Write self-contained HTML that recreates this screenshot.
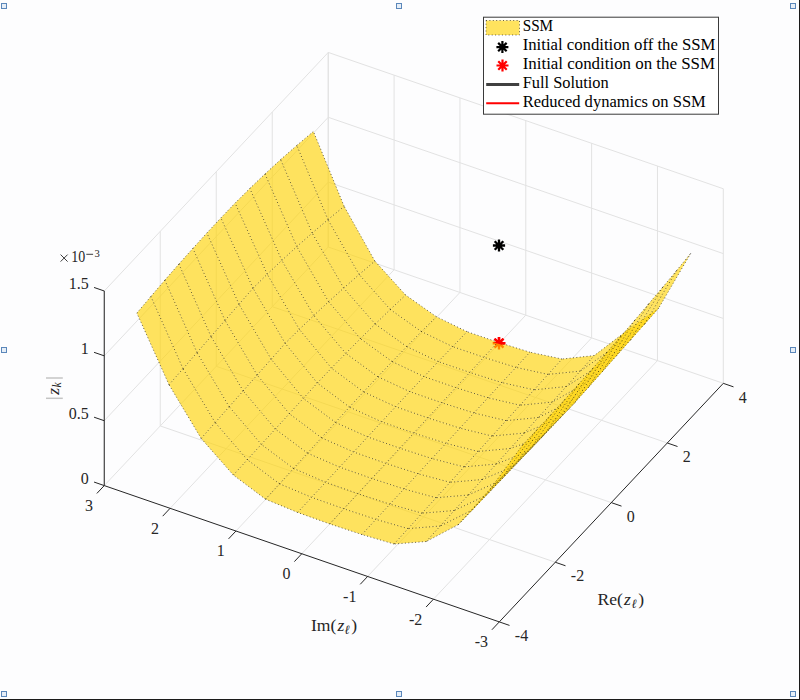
<!DOCTYPE html>
<html><head><meta charset="utf-8"><style>html,body{margin:0;padding:0;background:#FDFDFE;overflow:hidden}svg{display:block}</style></head><body>
<svg width="800" height="700" viewBox="0 0 800 700">
<rect width="800" height="700" fill="#FDFDFE"/>
<line x1="555.3" y1="562.26" x2="160.26" y2="425.94" stroke="#E2E2E2" stroke-width="1" />
<line x1="611.3" y1="502.62" x2="216.26" y2="366.3" stroke="#E2E2E2" stroke-width="1" />
<line x1="667.3" y1="442.98" x2="272.26" y2="306.66" stroke="#E2E2E2" stroke-width="1" />
<line x1="723.3" y1="383.34" x2="328.26" y2="247.02" stroke="#E2E2E2" stroke-width="1" />
<line x1="433.46" y1="599.18" x2="657.46" y2="360.62" stroke="#E2E2E2" stroke-width="1" />
<line x1="367.62" y1="576.46" x2="591.62" y2="337.9" stroke="#E2E2E2" stroke-width="1" />
<line x1="301.78" y1="553.74" x2="525.78" y2="315.18" stroke="#E2E2E2" stroke-width="1" />
<line x1="235.94" y1="531.02" x2="459.94" y2="292.46" stroke="#E2E2E2" stroke-width="1" />
<line x1="170.1" y1="508.3" x2="394.1" y2="269.74" stroke="#E2E2E2" stroke-width="1" />
<line x1="104.26" y1="485.58" x2="328.26" y2="247.02" stroke="#E2E2E2" stroke-width="1" />
<line x1="104.26" y1="485.58" x2="104.26" y2="290.99" stroke="#E2E2E2" stroke-width="1" />
<line x1="160.26" y1="425.94" x2="160.26" y2="231.35" stroke="#E2E2E2" stroke-width="1" />
<line x1="216.26" y1="366.3" x2="216.26" y2="171.71" stroke="#E2E2E2" stroke-width="1" />
<line x1="272.26" y1="306.66" x2="272.26" y2="112.06" stroke="#E2E2E2" stroke-width="1" />
<line x1="328.26" y1="247.02" x2="328.26" y2="52.43" stroke="#E2E2E2" stroke-width="1" />
<line x1="104.26" y1="420.71" x2="328.26" y2="182.15" stroke="#E2E2E2" stroke-width="1" />
<line x1="104.26" y1="355.85" x2="328.26" y2="117.29" stroke="#E2E2E2" stroke-width="1" />
<line x1="104.26" y1="290.99" x2="328.26" y2="52.43" stroke="#E2E2E2" stroke-width="1" />
<line x1="723.3" y1="383.34" x2="723.3" y2="188.75" stroke="#E2E2E2" stroke-width="1" />
<line x1="657.46" y1="360.62" x2="657.46" y2="166.03" stroke="#E2E2E2" stroke-width="1" />
<line x1="591.62" y1="337.9" x2="591.62" y2="143.31" stroke="#E2E2E2" stroke-width="1" />
<line x1="525.78" y1="315.18" x2="525.78" y2="120.58" stroke="#E2E2E2" stroke-width="1" />
<line x1="459.94" y1="292.46" x2="459.94" y2="97.87" stroke="#E2E2E2" stroke-width="1" />
<line x1="394.1" y1="269.74" x2="394.1" y2="75.15" stroke="#E2E2E2" stroke-width="1" />
<line x1="328.26" y1="247.02" x2="328.26" y2="52.43" stroke="#E2E2E2" stroke-width="1" />
<line x1="723.3" y1="318.47" x2="328.26" y2="182.15" stroke="#E2E2E2" stroke-width="1" />
<line x1="723.3" y1="253.61" x2="328.26" y2="117.29" stroke="#E2E2E2" stroke-width="1" />
<line x1="723.3" y1="188.75" x2="328.26" y2="52.43" stroke="#E2E2E2" stroke-width="1" />
<path d="M492.7,343.2L505.3,343.2M494.55,338.75L503.45,347.65M499,336.9L499,349.5M503.45,338.75L494.55,347.65" stroke="#FF0000" stroke-width="2.4" fill="none"/>
<polygon points="327.96,219.65 344.13,206.36 313.4,131.41 296.79,145.42" fill="#FFD200" fill-opacity="0.63"/>
<path d="M344.13,206.36L313.4,131.41M296.79,145.42L313.4,131.41" stroke="#000" stroke-opacity="0.6" stroke-width="1" stroke-dasharray="1 2.4" fill="none"/>
<polygon points="359.12,274.51 374.86,261.07 344.13,206.36 327.96,219.65" fill="#FFD200" fill-opacity="0.63"/>
<path d="M374.86,261.07L344.13,206.36M327.96,219.65L344.13,206.36" stroke="#000" stroke-opacity="0.6" stroke-width="1" stroke-dasharray="1 2.4" fill="none"/>
<polygon points="390.29,309.49 405.59,295.03 374.86,261.07 359.12,274.51" fill="#FFD200" fill-opacity="0.63"/>
<path d="M405.59,295.03L374.86,261.07M359.12,274.51L374.86,261.07" stroke="#000" stroke-opacity="0.6" stroke-width="1" stroke-dasharray="1 2.4" fill="none"/>
<polygon points="421.45,331.59 436.32,316.66 405.59,295.03 390.29,309.49" fill="#FFD200" fill-opacity="0.63"/>
<path d="M436.32,316.66L405.59,295.03M390.29,309.49L405.59,295.03" stroke="#000" stroke-opacity="0.6" stroke-width="1" stroke-dasharray="1 2.4" fill="none"/>
<polygon points="312.18,233.08 327.96,219.65 296.79,145.42 280.66,159.59" fill="#FFD200" fill-opacity="0.63"/>
<path d="M327.96,219.65L296.79,145.42M280.66,159.59L296.79,145.42" stroke="#000" stroke-opacity="0.6" stroke-width="1" stroke-dasharray="1 2.4" fill="none"/>
<polygon points="452.62,346.63 467.05,331.67 436.32,316.66 421.45,331.59" fill="#FFD200" fill-opacity="0.63"/>
<path d="M467.05,331.67L436.32,316.66M421.45,331.59L436.32,316.66" stroke="#000" stroke-opacity="0.6" stroke-width="1" stroke-dasharray="1 2.4" fill="none"/>
<polygon points="343.7,288.07 359.12,274.51 327.96,219.65 312.18,233.08" fill="#FFD200" fill-opacity="0.63"/>
<path d="M359.12,274.51L327.96,219.65M312.18,233.08L327.96,219.65" stroke="#000" stroke-opacity="0.6" stroke-width="1" stroke-dasharray="1 2.4" fill="none"/>
<polygon points="375.22,324.03 390.29,309.49 359.12,274.51 343.7,288.07" fill="#FFD200" fill-opacity="0.63"/>
<path d="M390.29,309.49L359.12,274.51M343.7,288.07L359.12,274.51" stroke="#000" stroke-opacity="0.6" stroke-width="1" stroke-dasharray="1 2.4" fill="none"/>
<polygon points="483.78,357.29 497.78,342.15 467.05,331.67 452.62,346.63" fill="#FFD200" fill-opacity="0.63"/>
<path d="M497.78,342.15L467.05,331.67M452.62,346.63L467.05,331.67" stroke="#000" stroke-opacity="0.6" stroke-width="1" stroke-dasharray="1 2.4" fill="none"/>
<polygon points="406.74,346.58 421.45,331.59 390.29,309.49 375.22,324.03" fill="#FFD200" fill-opacity="0.63"/>
<path d="M421.45,331.59L390.29,309.49M375.22,324.03L390.29,309.49" stroke="#000" stroke-opacity="0.6" stroke-width="1" stroke-dasharray="1 2.4" fill="none"/>
<polygon points="515.93,367.39 529.93,352.2 497.78,342.15 483.78,357.29" fill="#FFD200" fill-opacity="0.63"/>
<path d="M529.93,352.2L497.78,342.15M483.78,357.29L497.78,342.15" stroke="#000" stroke-opacity="0.6" stroke-width="1" stroke-dasharray="1 2.4" fill="none"/>
<polygon points="296.8,246.65 312.18,233.08 280.66,159.59 265,173.93" fill="#FFD200" fill-opacity="0.63"/>
<path d="M312.18,233.08L280.66,159.59M265,173.93L280.66,159.59" stroke="#000" stroke-opacity="0.6" stroke-width="1" stroke-dasharray="1 2.4" fill="none"/>
<polygon points="438.26,361.61 452.62,346.63 421.45,331.59 406.74,346.58" fill="#FFD200" fill-opacity="0.63"/>
<path d="M452.62,346.63L421.45,331.59M406.74,346.58L421.45,331.59" stroke="#000" stroke-opacity="0.6" stroke-width="1" stroke-dasharray="1 2.4" fill="none"/>
<polygon points="328.59,301.73 343.7,288.07 312.18,233.08 296.8,246.65" fill="#FFD200" fill-opacity="0.63"/>
<path d="M343.7,288.07L312.18,233.08M296.8,246.65L312.18,233.08" stroke="#000" stroke-opacity="0.6" stroke-width="1" stroke-dasharray="1 2.4" fill="none"/>
<polygon points="548.08,374.42 562.08,359.02 529.93,352.2 515.93,367.39" fill="#FFD200" fill-opacity="0.63"/>
<path d="M562.08,359.02L529.93,352.2M515.93,367.39L529.93,352.2" stroke="#000" stroke-opacity="0.6" stroke-width="1" stroke-dasharray="1 2.4" fill="none"/>
<polygon points="360.39,338.65 375.22,324.03 343.7,288.07 328.59,301.73" fill="#FFD200" fill-opacity="0.63"/>
<path d="M375.22,324.03L343.7,288.07M328.59,301.73L343.7,288.07" stroke="#000" stroke-opacity="0.6" stroke-width="1" stroke-dasharray="1 2.4" fill="none"/>
<polygon points="469.78,372.44 483.78,357.29 452.62,346.63 438.26,361.61" fill="#FFD200" fill-opacity="0.63"/>
<path d="M483.78,357.29L452.62,346.63M438.26,361.61L452.62,346.63" stroke="#000" stroke-opacity="0.6" stroke-width="1" stroke-dasharray="1 2.4" fill="none"/>
<polygon points="392.19,361.62 406.74,346.58 375.22,324.03 360.39,338.65" fill="#FFD200" fill-opacity="0.63"/>
<path d="M406.74,346.58L375.22,324.03M360.39,338.65L375.22,324.03" stroke="#000" stroke-opacity="0.6" stroke-width="1" stroke-dasharray="1 2.4" fill="none"/>
<polygon points="580.24,371.08 594.24,355.58 562.08,359.02 548.08,374.42" fill="#FFD200" fill-opacity="0.63"/>
<path d="M594.24,355.58L562.08,359.02M548.08,374.42L562.08,359.02" stroke="#000" stroke-opacity="0.6" stroke-width="1" stroke-dasharray="1 2.4" fill="none"/>
<polygon points="501.93,382.59 515.93,367.39 483.78,357.29 469.78,372.44" fill="#FFD200" fill-opacity="0.63"/>
<path d="M515.93,367.39L483.78,357.29M469.78,372.44L483.78,357.29" stroke="#000" stroke-opacity="0.6" stroke-width="1" stroke-dasharray="1 2.4" fill="none"/>
<polygon points="281.81,260.36 296.8,246.65 265,173.93 249.82,188.43" fill="#FFD200" fill-opacity="0.63"/>
<path d="M296.8,246.65L265,173.93M249.82,188.43L265,173.93" stroke="#000" stroke-opacity="0.6" stroke-width="1" stroke-dasharray="1 2.4" fill="none"/>
<polygon points="423.98,376.62 438.26,361.61 406.74,346.58 392.19,361.62" fill="#FFD200" fill-opacity="0.63"/>
<path d="M438.26,361.61L406.74,346.58M392.19,361.62L406.74,346.58" stroke="#000" stroke-opacity="0.6" stroke-width="1" stroke-dasharray="1 2.4" fill="none"/>
<polygon points="313.8,315.51 328.59,301.73 296.8,246.65 281.81,260.36" fill="#FFD200" fill-opacity="0.63"/>
<path d="M328.59,301.73L296.8,246.65M281.81,260.36L296.8,246.65" stroke="#000" stroke-opacity="0.6" stroke-width="1" stroke-dasharray="1 2.4" fill="none"/>
<polygon points="612.39,348.64 626.39,331 594.24,355.58 580.24,371.08" fill="#FFD200" fill-opacity="0.63"/>
<path d="M626.39,331L594.24,355.58M580.24,371.08L594.24,355.58" stroke="#000" stroke-opacity="0.6" stroke-width="1" stroke-dasharray="1 2.4" fill="none"/>
<polygon points="534.08,389.83 548.08,374.42 515.93,367.39 501.93,382.59" fill="#FFD200" fill-opacity="0.63"/>
<path d="M548.08,374.42L515.93,367.39M501.93,382.59L515.93,367.39" stroke="#000" stroke-opacity="0.6" stroke-width="1" stroke-dasharray="1 2.4" fill="none"/>
<polygon points="345.8,353.36 360.39,338.65 328.59,301.73 313.8,315.51" fill="#FFD200" fill-opacity="0.63"/>
<path d="M360.39,338.65L328.59,301.73M313.8,315.51L328.59,301.73" stroke="#000" stroke-opacity="0.6" stroke-width="1" stroke-dasharray="1 2.4" fill="none"/>
<polygon points="455.78,387.59 469.78,372.44 438.26,361.61 423.98,376.62" fill="#FFD200" fill-opacity="0.63"/>
<path d="M469.78,372.44L438.26,361.61M423.98,376.62L438.26,361.61" stroke="#000" stroke-opacity="0.6" stroke-width="1" stroke-dasharray="1 2.4" fill="none"/>
<polygon points="377.79,376.72 392.19,361.62 360.39,338.65 345.8,353.36" fill="#FFD200" fill-opacity="0.63"/>
<path d="M392.19,361.62L360.39,338.65M345.8,353.36L360.39,338.65" stroke="#000" stroke-opacity="0.6" stroke-width="1" stroke-dasharray="1 2.4" fill="none"/>
<polygon points="566.24,386.57 580.24,371.08 548.08,374.42 534.08,389.83" fill="#FFD200" fill-opacity="0.63"/>
<path d="M580.24,371.08L548.08,374.42M534.08,389.83L548.08,374.42" stroke="#000" stroke-opacity="0.6" stroke-width="1" stroke-dasharray="1 2.4" fill="none"/>
<polygon points="644.54,324.14 658.54,308.37 626.39,331 612.39,348.64" fill="#FFD200" fill-opacity="0.63"/>
<path d="M658.54,308.37L626.39,331M612.39,348.64L626.39,331" stroke="#000" stroke-opacity="0.6" stroke-width="1" stroke-dasharray="1 2.4" fill="none"/>
<polygon points="487.93,397.78 501.93,382.59 469.78,372.44 455.78,387.59" fill="#FFD200" fill-opacity="0.63"/>
<path d="M501.93,382.59L469.78,372.44M455.78,387.59L469.78,372.44" stroke="#000" stroke-opacity="0.6" stroke-width="1" stroke-dasharray="1 2.4" fill="none"/>
<polygon points="267.22,274.2 281.81,260.36 249.82,188.43 235.11,203.09" fill="#FFD200" fill-opacity="0.63"/>
<path d="M281.81,260.36L249.82,188.43M235.11,203.09L249.82,188.43" stroke="#000" stroke-opacity="0.6" stroke-width="1" stroke-dasharray="1 2.4" fill="none"/>
<polygon points="409.79,391.65 423.98,376.62 392.19,361.62 377.79,376.72" fill="#FFD200" fill-opacity="0.63"/>
<path d="M423.98,376.62L392.19,361.62M377.79,376.72L392.19,361.62" stroke="#000" stroke-opacity="0.6" stroke-width="1" stroke-dasharray="1 2.4" fill="none"/>
<polygon points="299.33,329.39 313.8,315.51 281.81,260.36 267.22,274.2" fill="#FFD200" fill-opacity="0.63"/>
<path d="M313.8,315.51L281.81,260.36M267.22,274.2L281.81,260.36" stroke="#000" stroke-opacity="0.6" stroke-width="1" stroke-dasharray="1 2.4" fill="none"/>
<polygon points="598.39,366.27 612.39,348.64 580.24,371.08 566.24,386.57" fill="#FFD200" fill-opacity="0.63"/>
<path d="M612.39,348.64L580.24,371.08M566.24,386.57L580.24,371.08" stroke="#000" stroke-opacity="0.6" stroke-width="1" stroke-dasharray="1 2.4" fill="none"/>
<polygon points="520.08,405.24 534.08,389.83 501.93,382.59 487.93,397.78" fill="#FFD200" fill-opacity="0.63"/>
<path d="M534.08,389.83L501.93,382.59M487.93,397.78L501.93,382.59" stroke="#000" stroke-opacity="0.6" stroke-width="1" stroke-dasharray="1 2.4" fill="none"/>
<polygon points="331.44,368.14 345.8,353.36 313.8,315.51 299.33,329.39" fill="#FFD200" fill-opacity="0.63"/>
<path d="M345.8,353.36L313.8,315.51M299.33,329.39L313.8,315.51" stroke="#000" stroke-opacity="0.6" stroke-width="1" stroke-dasharray="1 2.4" fill="none"/>
<polygon points="441.78,402.74 455.78,387.59 423.98,376.62 409.79,391.65" fill="#FFD200" fill-opacity="0.63"/>
<path d="M455.78,387.59L423.98,376.62M409.79,391.65L423.98,376.62" stroke="#000" stroke-opacity="0.6" stroke-width="1" stroke-dasharray="1 2.4" fill="none"/>
<polygon points="676.69,270.41 690.69,253.39 658.54,308.37 644.54,324.14" fill="#FFD200" fill-opacity="0.63"/>
<path d="M690.69,253.39L658.54,308.37M676.69,270.41L690.69,253.39M644.54,324.14L658.54,308.37" stroke="#000" stroke-opacity="0.6" stroke-width="1" stroke-dasharray="1 2.4" fill="none"/>
<polygon points="363.56,391.87 377.79,376.72 345.8,353.36 331.44,368.14" fill="#FFD200" fill-opacity="0.63"/>
<path d="M377.79,376.72L345.8,353.36M331.44,368.14L345.8,353.36" stroke="#000" stroke-opacity="0.6" stroke-width="1" stroke-dasharray="1 2.4" fill="none"/>
<polygon points="552.24,402.06 566.24,386.57 534.08,389.83 520.08,405.24" fill="#FFD200" fill-opacity="0.63"/>
<path d="M566.24,386.57L534.08,389.83M520.08,405.24L534.08,389.83" stroke="#000" stroke-opacity="0.6" stroke-width="1" stroke-dasharray="1 2.4" fill="none"/>
<polygon points="630.54,339.92 644.54,324.14 612.39,348.64 598.39,366.27" fill="#FFD200" fill-opacity="0.63"/>
<path d="M644.54,324.14L612.39,348.64M598.39,366.27L612.39,348.64" stroke="#000" stroke-opacity="0.6" stroke-width="1" stroke-dasharray="1 2.4" fill="none"/>
<polygon points="473.93,412.97 487.93,397.78 455.78,387.59 441.78,402.74" fill="#FFD200" fill-opacity="0.63"/>
<path d="M487.93,397.78L455.78,387.59M441.78,402.74L455.78,387.59" stroke="#000" stroke-opacity="0.6" stroke-width="1" stroke-dasharray="1 2.4" fill="none"/>
<polygon points="253.02,288.17 267.22,274.2 235.11,203.09 220.87,217.92" fill="#FFD200" fill-opacity="0.63"/>
<path d="M267.22,274.2L235.11,203.09M220.87,217.92L235.11,203.09" stroke="#000" stroke-opacity="0.6" stroke-width="1" stroke-dasharray="1 2.4" fill="none"/>
<polygon points="395.67,406.72 409.79,391.65 377.79,376.72 363.56,391.87" fill="#FFD200" fill-opacity="0.63"/>
<path d="M409.79,391.65L377.79,376.72M363.56,391.87L377.79,376.72" stroke="#000" stroke-opacity="0.6" stroke-width="1" stroke-dasharray="1 2.4" fill="none"/>
<polygon points="285.17,343.38 299.33,329.39 267.22,274.2 253.02,288.17" fill="#FFD200" fill-opacity="0.63"/>
<path d="M299.33,329.39L267.22,274.2M253.02,288.17L267.22,274.2" stroke="#000" stroke-opacity="0.6" stroke-width="1" stroke-dasharray="1 2.4" fill="none"/>
<polygon points="584.39,383.9 598.39,366.27 566.24,386.57 552.24,402.06" fill="#FFD200" fill-opacity="0.63"/>
<path d="M598.39,366.27L566.24,386.57M552.24,402.06L566.24,386.57" stroke="#000" stroke-opacity="0.6" stroke-width="1" stroke-dasharray="1 2.4" fill="none"/>
<polygon points="506.08,420.65 520.08,405.24 487.93,397.78 473.93,412.97" fill="#FFD200" fill-opacity="0.63"/>
<path d="M520.08,405.24L487.93,397.78M473.93,412.97L487.93,397.78" stroke="#000" stroke-opacity="0.6" stroke-width="1" stroke-dasharray="1 2.4" fill="none"/>
<polygon points="317.32,383.01 331.44,368.14 299.33,329.39 285.17,343.38" fill="#FFD200" fill-opacity="0.63"/>
<path d="M331.44,368.14L299.33,329.39M285.17,343.38L299.33,329.39" stroke="#000" stroke-opacity="0.6" stroke-width="1" stroke-dasharray="1 2.4" fill="none"/>
<polygon points="427.78,417.89 441.78,402.74 409.79,391.65 395.67,406.72" fill="#FFD200" fill-opacity="0.63"/>
<path d="M441.78,402.74L409.79,391.65M395.67,406.72L409.79,391.65" stroke="#000" stroke-opacity="0.6" stroke-width="1" stroke-dasharray="1 2.4" fill="none"/>
<polygon points="662.69,287.23 676.69,270.41 644.54,324.14 630.54,339.92" fill="#FFD200" fill-opacity="0.63"/>
<path d="M676.69,270.41L644.54,324.14M662.69,287.23L676.69,270.41M630.54,339.92L644.54,324.14" stroke="#000" stroke-opacity="0.6" stroke-width="1" stroke-dasharray="1 2.4" fill="none"/>
<polygon points="349.48,407.08 363.56,391.87 331.44,368.14 317.32,383.01" fill="#FFD200" fill-opacity="0.63"/>
<path d="M363.56,391.87L331.44,368.14M317.32,383.01L331.44,368.14" stroke="#000" stroke-opacity="0.6" stroke-width="1" stroke-dasharray="1 2.4" fill="none"/>
<polygon points="538.24,417.56 552.24,402.06 520.08,405.24 506.08,420.65" fill="#FFD200" fill-opacity="0.63"/>
<path d="M552.24,402.06L520.08,405.24M506.08,420.65L520.08,405.24" stroke="#000" stroke-opacity="0.6" stroke-width="1" stroke-dasharray="1 2.4" fill="none"/>
<polygon points="616.54,355.69 630.54,339.92 598.39,366.27 584.39,383.9" fill="#FFD200" fill-opacity="0.63"/>
<path d="M630.54,339.92L598.39,366.27M584.39,383.9L598.39,366.27" stroke="#000" stroke-opacity="0.6" stroke-width="1" stroke-dasharray="1 2.4" fill="none"/>
<polygon points="459.93,428.16 473.93,412.97 441.78,402.74 427.78,417.89" fill="#FFD200" fill-opacity="0.63"/>
<path d="M473.93,412.97L441.78,402.74M427.78,417.89L441.78,402.74" stroke="#000" stroke-opacity="0.6" stroke-width="1" stroke-dasharray="1 2.4" fill="none"/>
<polygon points="239.02,304.27 253.02,288.17 220.87,217.92 206.87,232.99" fill="#FFD200" fill-opacity="0.63"/>
<path d="M253.02,288.17L220.87,217.92M206.87,232.99L220.87,217.92" stroke="#000" stroke-opacity="0.6" stroke-width="1" stroke-dasharray="1 2.4" fill="none"/>
<polygon points="381.63,421.81 395.67,406.72 363.56,391.87 349.48,407.08" fill="#FFD200" fill-opacity="0.63"/>
<path d="M395.67,406.72L363.56,391.87M349.48,407.08L363.56,391.87" stroke="#000" stroke-opacity="0.6" stroke-width="1" stroke-dasharray="1 2.4" fill="none"/>
<polygon points="271.17,359.22 285.17,343.38 253.02,288.17 239.02,304.27" fill="#FFD200" fill-opacity="0.63"/>
<path d="M285.17,343.38L253.02,288.17M239.02,304.27L253.02,288.17" stroke="#000" stroke-opacity="0.6" stroke-width="1" stroke-dasharray="1 2.4" fill="none"/>
<polygon points="570.39,401.54 584.39,383.9 552.24,402.06 538.24,417.56" fill="#FFD200" fill-opacity="0.63"/>
<path d="M584.39,383.9L552.24,402.06M538.24,417.56L552.24,402.06" stroke="#000" stroke-opacity="0.6" stroke-width="1" stroke-dasharray="1 2.4" fill="none"/>
<polygon points="492.08,436.05 506.08,420.65 473.93,412.97 459.93,428.16" fill="#FFD200" fill-opacity="0.63"/>
<path d="M506.08,420.65L473.93,412.97M459.93,428.16L473.93,412.97" stroke="#000" stroke-opacity="0.6" stroke-width="1" stroke-dasharray="1 2.4" fill="none"/>
<polygon points="303.32,398.36 317.32,383.01 285.17,343.38 271.17,359.22" fill="#FFD200" fill-opacity="0.63"/>
<path d="M317.32,383.01L285.17,343.38M271.17,359.22L285.17,343.38" stroke="#000" stroke-opacity="0.6" stroke-width="1" stroke-dasharray="1 2.4" fill="none"/>
<polygon points="413.78,433.03 427.78,417.89 395.67,406.72 381.63,421.81" fill="#FFD200" fill-opacity="0.63"/>
<path d="M427.78,417.89L395.67,406.72M381.63,421.81L395.67,406.72" stroke="#000" stroke-opacity="0.6" stroke-width="1" stroke-dasharray="1 2.4" fill="none"/>
<polygon points="648.69,303.86 662.69,287.23 630.54,339.92 616.54,355.69" fill="#FFD200" fill-opacity="0.63"/>
<path d="M662.69,287.23L630.54,339.92M648.69,303.86L662.69,287.23M616.54,355.69L630.54,339.92" stroke="#000" stroke-opacity="0.6" stroke-width="1" stroke-dasharray="1 2.4" fill="none"/>
<polygon points="335.48,422.42 349.48,407.08 317.32,383.01 303.32,398.36" fill="#FFD200" fill-opacity="0.63"/>
<path d="M349.48,407.08L317.32,383.01M303.32,398.36L317.32,383.01" stroke="#000" stroke-opacity="0.6" stroke-width="1" stroke-dasharray="1 2.4" fill="none"/>
<polygon points="524.24,433.05 538.24,417.56 506.08,420.65 492.08,436.05" fill="#FFD200" fill-opacity="0.63"/>
<path d="M538.24,417.56L506.08,420.65M492.08,436.05L506.08,420.65" stroke="#000" stroke-opacity="0.6" stroke-width="1" stroke-dasharray="1 2.4" fill="none"/>
<polygon points="602.54,371.47 616.54,355.69 584.39,383.9 570.39,401.54" fill="#FFD200" fill-opacity="0.63"/>
<path d="M616.54,355.69L584.39,383.9M570.39,401.54L584.39,383.9" stroke="#000" stroke-opacity="0.6" stroke-width="1" stroke-dasharray="1 2.4" fill="none"/>
<polygon points="445.93,443.35 459.93,428.16 427.78,417.89 413.78,433.03" fill="#FFD200" fill-opacity="0.63"/>
<path d="M459.93,428.16L427.78,417.89M413.78,433.03L427.78,417.89" stroke="#000" stroke-opacity="0.6" stroke-width="1" stroke-dasharray="1 2.4" fill="none"/>
<polygon points="225.02,320.37 239.02,304.27 206.87,232.99 192.87,248.38" fill="#FFD200" fill-opacity="0.63"/>
<path d="M239.02,304.27L206.87,232.99M192.87,248.38L206.87,232.99" stroke="#000" stroke-opacity="0.6" stroke-width="1" stroke-dasharray="1 2.4" fill="none"/>
<polygon points="367.63,436.91 381.63,421.81 349.48,407.08 335.48,422.42" fill="#FFD200" fill-opacity="0.63"/>
<path d="M381.63,421.81L349.48,407.08M335.48,422.42L349.48,407.08" stroke="#000" stroke-opacity="0.6" stroke-width="1" stroke-dasharray="1 2.4" fill="none"/>
<polygon points="257.17,375.06 271.17,359.22 239.02,304.27 225.02,320.37" fill="#FFD200" fill-opacity="0.63"/>
<path d="M271.17,359.22L239.02,304.27M225.02,320.37L239.02,304.27" stroke="#000" stroke-opacity="0.6" stroke-width="1" stroke-dasharray="1 2.4" fill="none"/>
<polygon points="556.39,419.17 570.39,401.54 538.24,417.56 524.24,433.05" fill="#FFD200" fill-opacity="0.63"/>
<path d="M570.39,401.54L538.24,417.56M524.24,433.05L538.24,417.56" stroke="#000" stroke-opacity="0.6" stroke-width="1" stroke-dasharray="1 2.4" fill="none"/>
<polygon points="478.08,451.46 492.08,436.05 459.93,428.16 445.93,443.35" fill="#FFD200" fill-opacity="0.63"/>
<path d="M492.08,436.05L459.93,428.16M445.93,443.35L459.93,428.16" stroke="#000" stroke-opacity="0.6" stroke-width="1" stroke-dasharray="1 2.4" fill="none"/>
<polygon points="289.32,413.7 303.32,398.36 271.17,359.22 257.17,375.06" fill="#FFD200" fill-opacity="0.63"/>
<path d="M303.32,398.36L271.17,359.22M257.17,375.06L271.17,359.22" stroke="#000" stroke-opacity="0.6" stroke-width="1" stroke-dasharray="1 2.4" fill="none"/>
<polygon points="399.78,448.18 413.78,433.03 381.63,421.81 367.63,436.91" fill="#FFD200" fill-opacity="0.63"/>
<path d="M413.78,433.03L381.63,421.81M367.63,436.91L381.63,421.81" stroke="#000" stroke-opacity="0.6" stroke-width="1" stroke-dasharray="1 2.4" fill="none"/>
<polygon points="634.69,320.3 648.69,303.86 616.54,355.69 602.54,371.47" fill="#FFD200" fill-opacity="0.63"/>
<path d="M648.69,303.86L616.54,355.69M634.69,320.3L648.69,303.86M602.54,371.47L616.54,355.69" stroke="#000" stroke-opacity="0.6" stroke-width="1" stroke-dasharray="1 2.4" fill="none"/>
<polygon points="321.48,437.77 335.48,422.42 303.32,398.36 289.32,413.7" fill="#FFD200" fill-opacity="0.63"/>
<path d="M335.48,422.42L303.32,398.36M289.32,413.7L303.32,398.36" stroke="#000" stroke-opacity="0.6" stroke-width="1" stroke-dasharray="1 2.4" fill="none"/>
<polygon points="510.24,448.54 524.24,433.05 492.08,436.05 478.08,451.46" fill="#FFD200" fill-opacity="0.63"/>
<path d="M524.24,433.05L492.08,436.05M478.08,451.46L492.08,436.05" stroke="#000" stroke-opacity="0.6" stroke-width="1" stroke-dasharray="1 2.4" fill="none"/>
<polygon points="588.54,387.24 602.54,371.47 570.39,401.54 556.39,419.17" fill="#FFD200" fill-opacity="0.63"/>
<path d="M602.54,371.47L570.39,401.54M556.39,419.17L570.39,401.54" stroke="#000" stroke-opacity="0.6" stroke-width="1" stroke-dasharray="1 2.4" fill="none"/>
<polygon points="431.93,458.55 445.93,443.35 413.78,433.03 399.78,448.18" fill="#FFD200" fill-opacity="0.63"/>
<path d="M445.93,443.35L413.78,433.03M399.78,448.18L413.78,433.03" stroke="#000" stroke-opacity="0.6" stroke-width="1" stroke-dasharray="1 2.4" fill="none"/>
<polygon points="211.02,336.47 225.02,320.37 192.87,248.38 178.87,264.08" fill="#FFD200" fill-opacity="0.63"/>
<path d="M225.02,320.37L192.87,248.38M178.87,264.08L192.87,248.38" stroke="#000" stroke-opacity="0.6" stroke-width="1" stroke-dasharray="1 2.4" fill="none"/>
<polygon points="353.63,452.02 367.63,436.91 335.48,422.42 321.48,437.77" fill="#FFD200" fill-opacity="0.63"/>
<path d="M367.63,436.91L335.48,422.42M321.48,437.77L335.48,422.42" stroke="#000" stroke-opacity="0.6" stroke-width="1" stroke-dasharray="1 2.4" fill="none"/>
<polygon points="243.17,390.9 257.17,375.06 225.02,320.37 211.02,336.47" fill="#FFD200" fill-opacity="0.63"/>
<path d="M257.17,375.06L225.02,320.37M211.02,336.47L225.02,320.37" stroke="#000" stroke-opacity="0.6" stroke-width="1" stroke-dasharray="1 2.4" fill="none"/>
<polygon points="542.39,436.81 556.39,419.17 524.24,433.05 510.24,448.54" fill="#FFD200" fill-opacity="0.63"/>
<path d="M556.39,419.17L524.24,433.05M510.24,448.54L524.24,433.05" stroke="#000" stroke-opacity="0.6" stroke-width="1" stroke-dasharray="1 2.4" fill="none"/>
<polygon points="464.08,466.89 478.08,451.46 445.93,443.35 431.93,458.55" fill="#FFD200" fill-opacity="0.63"/>
<path d="M478.08,451.46L445.93,443.35M431.93,458.55L445.93,443.35" stroke="#000" stroke-opacity="0.6" stroke-width="1" stroke-dasharray="1 2.4" fill="none"/>
<polygon points="275.32,429.04 289.32,413.7 257.17,375.06 243.17,390.9" fill="#FFD200" fill-opacity="0.63"/>
<path d="M289.32,413.7L257.17,375.06M243.17,390.9L257.17,375.06" stroke="#000" stroke-opacity="0.6" stroke-width="1" stroke-dasharray="1 2.4" fill="none"/>
<polygon points="385.78,463.33 399.78,448.18 367.63,436.91 353.63,452.02" fill="#FFD200" fill-opacity="0.63"/>
<path d="M399.78,448.18L367.63,436.91M353.63,452.02L367.63,436.91" stroke="#000" stroke-opacity="0.6" stroke-width="1" stroke-dasharray="1 2.4" fill="none"/>
<polygon points="620.69,336.56 634.69,320.3 602.54,371.47 588.54,387.24" fill="#FFD200" fill-opacity="0.63"/>
<path d="M634.69,320.3L602.54,371.47M620.69,336.56L634.69,320.3M588.54,387.24L602.54,371.47" stroke="#000" stroke-opacity="0.6" stroke-width="1" stroke-dasharray="1 2.4" fill="none"/>
<polygon points="307.48,453.11 321.48,437.77 289.32,413.7 275.32,429.04" fill="#FFD200" fill-opacity="0.63"/>
<path d="M321.48,437.77L289.32,413.7M275.32,429.04L289.32,413.7" stroke="#000" stroke-opacity="0.6" stroke-width="1" stroke-dasharray="1 2.4" fill="none"/>
<polygon points="496.24,464.04 510.24,448.54 478.08,451.46 464.08,466.89" fill="#FFD200" fill-opacity="0.63"/>
<path d="M510.24,448.54L478.08,451.46M464.08,466.89L478.08,451.46" stroke="#000" stroke-opacity="0.6" stroke-width="1" stroke-dasharray="1 2.4" fill="none"/>
<polygon points="574.54,403.02 588.54,387.24 556.39,419.17 542.39,436.81" fill="#FFD200" fill-opacity="0.63"/>
<path d="M588.54,387.24L556.39,419.17M542.39,436.81L556.39,419.17" stroke="#000" stroke-opacity="0.6" stroke-width="1" stroke-dasharray="1 2.4" fill="none"/>
<polygon points="417.93,473.76 431.93,458.55 399.78,448.18 385.78,463.33" fill="#FFD200" fill-opacity="0.63"/>
<path d="M431.93,458.55L399.78,448.18M385.78,463.33L399.78,448.18" stroke="#000" stroke-opacity="0.6" stroke-width="1" stroke-dasharray="1 2.4" fill="none"/>
<polygon points="197.02,352.57 211.02,336.47 178.87,264.08 164.87,280.11" fill="#FFD200" fill-opacity="0.63"/>
<path d="M211.02,336.47L178.87,264.08M164.87,280.11L178.87,264.08" stroke="#000" stroke-opacity="0.6" stroke-width="1" stroke-dasharray="1 2.4" fill="none"/>
<polygon points="339.63,467.12 353.63,452.02 321.48,437.77 307.48,453.11" fill="#FFD200" fill-opacity="0.63"/>
<path d="M353.63,452.02L321.48,437.77M307.48,453.11L321.48,437.77" stroke="#000" stroke-opacity="0.6" stroke-width="1" stroke-dasharray="1 2.4" fill="none"/>
<polygon points="229.17,406.74 243.17,390.9 211.02,336.47 197.02,352.57" fill="#FFD200" fill-opacity="0.63"/>
<path d="M243.17,390.9L211.02,336.47M197.02,352.57L211.02,336.47" stroke="#000" stroke-opacity="0.6" stroke-width="1" stroke-dasharray="1 2.4" fill="none"/>
<polygon points="528.39,451.44 542.39,436.81 510.24,448.54 496.24,464.04" fill="#FFD200" fill-opacity="0.63"/>
<path d="M542.39,436.81L510.24,448.54M496.24,464.04L510.24,448.54" stroke="#000" stroke-opacity="0.6" stroke-width="1" stroke-dasharray="1 2.4" fill="none"/>
<polygon points="450.08,482.32 464.08,466.89 431.93,458.55 417.93,473.76" fill="#FFD200" fill-opacity="0.63"/>
<path d="M464.08,466.89L431.93,458.55M417.93,473.76L431.93,458.55" stroke="#000" stroke-opacity="0.6" stroke-width="1" stroke-dasharray="1 2.4" fill="none"/>
<polygon points="261.32,444.38 275.32,429.04 243.17,390.9 229.17,406.74" fill="#FFD200" fill-opacity="0.63"/>
<path d="M275.32,429.04L243.17,390.9M229.17,406.74L243.17,390.9" stroke="#000" stroke-opacity="0.6" stroke-width="1" stroke-dasharray="1 2.4" fill="none"/>
<polygon points="371.78,478.48 385.78,463.33 353.63,452.02 339.63,467.12" fill="#FFD200" fill-opacity="0.63"/>
<path d="M385.78,463.33L353.63,452.02M339.63,467.12L353.63,452.02" stroke="#000" stroke-opacity="0.6" stroke-width="1" stroke-dasharray="1 2.4" fill="none"/>
<polygon points="606.69,352.62 620.69,336.56 588.54,387.24 574.54,403.02" fill="#FFD200" fill-opacity="0.63"/>
<path d="M620.69,336.56L588.54,387.24M606.69,352.62L620.69,336.56M574.54,403.02L588.54,387.24" stroke="#000" stroke-opacity="0.6" stroke-width="1" stroke-dasharray="1 2.4" fill="none"/>
<polygon points="293.48,468.45 307.48,453.11 275.32,429.04 261.32,444.38" fill="#FFD200" fill-opacity="0.63"/>
<path d="M307.48,453.11L275.32,429.04M261.32,444.38L275.32,429.04" stroke="#000" stroke-opacity="0.6" stroke-width="1" stroke-dasharray="1 2.4" fill="none"/>
<polygon points="482.24,479.53 496.24,464.04 464.08,466.89 450.08,482.32" fill="#FFD200" fill-opacity="0.63"/>
<path d="M496.24,464.04L464.08,466.89M450.08,482.32L464.08,466.89" stroke="#000" stroke-opacity="0.6" stroke-width="1" stroke-dasharray="1 2.4" fill="none"/>
<polygon points="560.54,417.28 574.54,403.02 542.39,436.81 528.39,451.44" fill="#FFD200" fill-opacity="0.63"/>
<path d="M574.54,403.02L542.39,436.81M528.39,451.44L542.39,436.81" stroke="#000" stroke-opacity="0.6" stroke-width="1" stroke-dasharray="1 2.4" fill="none"/>
<polygon points="403.93,488.96 417.93,473.76 385.78,463.33 371.78,478.48" fill="#FFD200" fill-opacity="0.63"/>
<path d="M417.93,473.76L385.78,463.33M371.78,478.48L385.78,463.33" stroke="#000" stroke-opacity="0.6" stroke-width="1" stroke-dasharray="1 2.4" fill="none"/>
<polygon points="183.02,368.67 197.02,352.57 164.87,280.11 150.87,296.45" fill="#FFD200" fill-opacity="0.63"/>
<path d="M197.02,352.57L164.87,280.11M150.87,296.45L164.87,280.11" stroke="#000" stroke-opacity="0.6" stroke-width="1" stroke-dasharray="1 2.4" fill="none"/>
<polygon points="325.63,482.23 339.63,467.12 307.48,453.11 293.48,468.45" fill="#FFD200" fill-opacity="0.63"/>
<path d="M339.63,467.12L307.48,453.11M293.48,468.45L307.48,453.11" stroke="#000" stroke-opacity="0.6" stroke-width="1" stroke-dasharray="1 2.4" fill="none"/>
<polygon points="215.17,422.58 229.17,406.74 197.02,352.57 183.02,368.67" fill="#FFD200" fill-opacity="0.63"/>
<path d="M229.17,406.74L197.02,352.57M183.02,368.67L197.02,352.57" stroke="#000" stroke-opacity="0.6" stroke-width="1" stroke-dasharray="1 2.4" fill="none"/>
<polygon points="514.39,466.07 528.39,451.44 496.24,464.04 482.24,479.53" fill="#FFD200" fill-opacity="0.63"/>
<path d="M528.39,451.44L496.24,464.04M482.24,479.53L496.24,464.04" stroke="#000" stroke-opacity="0.6" stroke-width="1" stroke-dasharray="1 2.4" fill="none"/>
<polygon points="436.08,497.75 450.08,482.32 417.93,473.76 403.93,488.96" fill="#FFD200" fill-opacity="0.63"/>
<path d="M450.08,482.32L417.93,473.76M403.93,488.96L417.93,473.76" stroke="#000" stroke-opacity="0.6" stroke-width="1" stroke-dasharray="1 2.4" fill="none"/>
<polygon points="247.32,459.73 261.32,444.38 229.17,406.74 215.17,422.58" fill="#FFD200" fill-opacity="0.63"/>
<path d="M261.32,444.38L229.17,406.74M215.17,422.58L229.17,406.74" stroke="#000" stroke-opacity="0.6" stroke-width="1" stroke-dasharray="1 2.4" fill="none"/>
<polygon points="357.78,493.62 371.78,478.48 339.63,467.12 325.63,482.23" fill="#FFD200" fill-opacity="0.63"/>
<path d="M371.78,478.48L339.63,467.12M325.63,482.23L339.63,467.12" stroke="#000" stroke-opacity="0.6" stroke-width="1" stroke-dasharray="1 2.4" fill="none"/>
<polygon points="592.69,368.49 606.69,352.62 574.54,403.02 560.54,417.28" fill="#FFD200" fill-opacity="0.63"/>
<path d="M606.69,352.62L574.54,403.02M592.69,368.49L606.69,352.62M560.54,417.28L574.54,403.02" stroke="#000" stroke-opacity="0.6" stroke-width="1" stroke-dasharray="1 2.4" fill="none"/>
<polygon points="279.48,483.79 293.48,468.45 261.32,444.38 247.32,459.73" fill="#FFD200" fill-opacity="0.63"/>
<path d="M293.48,468.45L261.32,444.38M247.32,459.73L261.32,444.38" stroke="#000" stroke-opacity="0.6" stroke-width="1" stroke-dasharray="1 2.4" fill="none"/>
<polygon points="468.24,495.03 482.24,479.53 450.08,482.32 436.08,497.75" fill="#FFD200" fill-opacity="0.63"/>
<path d="M482.24,479.53L450.08,482.32M436.08,497.75L450.08,482.32" stroke="#000" stroke-opacity="0.6" stroke-width="1" stroke-dasharray="1 2.4" fill="none"/>
<polygon points="546.54,431.54 560.54,417.28 528.39,451.44 514.39,466.07" fill="#FFD200" fill-opacity="0.63"/>
<path d="M560.54,417.28L528.39,451.44M514.39,466.07L528.39,451.44" stroke="#000" stroke-opacity="0.6" stroke-width="1" stroke-dasharray="1 2.4" fill="none"/>
<polygon points="389.93,504.17 403.93,488.96 371.78,478.48 357.78,493.62" fill="#FFD200" fill-opacity="0.63"/>
<path d="M403.93,488.96L371.78,478.48M357.78,493.62L371.78,478.48" stroke="#000" stroke-opacity="0.6" stroke-width="1" stroke-dasharray="1 2.4" fill="none"/>
<polygon points="169.02,384.77 183.02,368.67 150.87,296.45 136.87,313.1" fill="#FFD200" fill-opacity="0.63"/>
<path d="M169.02,384.77L136.87,313.1M183.02,368.67L150.87,296.45M136.87,313.1L150.87,296.45" stroke="#000" stroke-opacity="0.6" stroke-width="1" stroke-dasharray="1 2.4" fill="none"/>
<polygon points="311.63,497.33 325.63,482.23 293.48,468.45 279.48,483.79" fill="#FFD200" fill-opacity="0.63"/>
<path d="M325.63,482.23L293.48,468.45M279.48,483.79L293.48,468.45" stroke="#000" stroke-opacity="0.6" stroke-width="1" stroke-dasharray="1 2.4" fill="none"/>
<polygon points="201.17,438.42 215.17,422.58 183.02,368.67 169.02,384.77" fill="#FFD200" fill-opacity="0.63"/>
<path d="M201.17,438.42L169.02,384.77M215.17,422.58L183.02,368.67M169.02,384.77L183.02,368.67" stroke="#000" stroke-opacity="0.6" stroke-width="1" stroke-dasharray="1 2.4" fill="none"/>
<polygon points="500.39,480.69 514.39,466.07 482.24,479.53 468.24,495.03" fill="#FFD200" fill-opacity="0.63"/>
<path d="M514.39,466.07L482.24,479.53M468.24,495.03L482.24,479.53" stroke="#000" stroke-opacity="0.6" stroke-width="1" stroke-dasharray="1 2.4" fill="none"/>
<polygon points="422.08,513.18 436.08,497.75 403.93,488.96 389.93,504.17" fill="#FFD200" fill-opacity="0.63"/>
<path d="M436.08,497.75L403.93,488.96M389.93,504.17L403.93,488.96" stroke="#000" stroke-opacity="0.6" stroke-width="1" stroke-dasharray="1 2.4" fill="none"/>
<polygon points="233.32,475.07 247.32,459.73 215.17,422.58 201.17,438.42" fill="#FFD200" fill-opacity="0.63"/>
<path d="M233.32,475.07L201.17,438.42M247.32,459.73L215.17,422.58M201.17,438.42L215.17,422.58" stroke="#000" stroke-opacity="0.6" stroke-width="1" stroke-dasharray="1 2.4" fill="none"/>
<polygon points="343.78,508.77 357.78,493.62 325.63,482.23 311.63,497.33" fill="#FFD200" fill-opacity="0.63"/>
<path d="M357.78,493.62L325.63,482.23M311.63,497.33L325.63,482.23" stroke="#000" stroke-opacity="0.6" stroke-width="1" stroke-dasharray="1 2.4" fill="none"/>
<polygon points="578.69,384.17 592.69,368.49 560.54,417.28 546.54,431.54" fill="#FFD200" fill-opacity="0.63"/>
<path d="M592.69,368.49L560.54,417.28M578.69,384.17L592.69,368.49M546.54,431.54L560.54,417.28" stroke="#000" stroke-opacity="0.6" stroke-width="1" stroke-dasharray="1 2.4" fill="none"/>
<polygon points="265.48,499.14 279.48,483.79 247.32,459.73 233.32,475.07" fill="#FFD200" fill-opacity="0.63"/>
<path d="M265.48,499.14L233.32,475.07M279.48,483.79L247.32,459.73M233.32,475.07L247.32,459.73" stroke="#000" stroke-opacity="0.6" stroke-width="1" stroke-dasharray="1 2.4" fill="none"/>
<polygon points="454.24,510.52 468.24,495.03 436.08,497.75 422.08,513.18" fill="#FFD200" fill-opacity="0.63"/>
<path d="M468.24,495.03L436.08,497.75M422.08,513.18L436.08,497.75" stroke="#000" stroke-opacity="0.6" stroke-width="1" stroke-dasharray="1 2.4" fill="none"/>
<polygon points="532.54,445.8 546.54,431.54 514.39,466.07 500.39,480.69" fill="#FFD200" fill-opacity="0.63"/>
<path d="M546.54,431.54L514.39,466.07M500.39,480.69L514.39,466.07" stroke="#000" stroke-opacity="0.6" stroke-width="1" stroke-dasharray="1 2.4" fill="none"/>
<polygon points="375.93,519.37 389.93,504.17 357.78,493.62 343.78,508.77" fill="#FFD200" fill-opacity="0.63"/>
<path d="M389.93,504.17L357.78,493.62M343.78,508.77L357.78,493.62" stroke="#000" stroke-opacity="0.6" stroke-width="1" stroke-dasharray="1 2.4" fill="none"/>
<polygon points="297.63,512.44 311.63,497.33 279.48,483.79 265.48,499.14" fill="#FFD200" fill-opacity="0.63"/>
<path d="M297.63,512.44L265.48,499.14M311.63,497.33L279.48,483.79M265.48,499.14L279.48,483.79" stroke="#000" stroke-opacity="0.6" stroke-width="1" stroke-dasharray="1 2.4" fill="none"/>
<polygon points="486.39,495.32 500.39,480.69 468.24,495.03 454.24,510.52" fill="#FFD200" fill-opacity="0.63"/>
<path d="M500.39,480.69L468.24,495.03M454.24,510.52L468.24,495.03" stroke="#000" stroke-opacity="0.6" stroke-width="1" stroke-dasharray="1 2.4" fill="none"/>
<polygon points="408.08,528.61 422.08,513.18 389.93,504.17 375.93,519.37" fill="#FFD200" fill-opacity="0.63"/>
<path d="M422.08,513.18L389.93,504.17M375.93,519.37L389.93,504.17" stroke="#000" stroke-opacity="0.6" stroke-width="1" stroke-dasharray="1 2.4" fill="none"/>
<polygon points="329.78,523.92 343.78,508.77 311.63,497.33 297.63,512.44" fill="#FFD200" fill-opacity="0.63"/>
<path d="M329.78,523.92L297.63,512.44M343.78,508.77L311.63,497.33M297.63,512.44L311.63,497.33" stroke="#000" stroke-opacity="0.6" stroke-width="1" stroke-dasharray="1 2.4" fill="none"/>
<polygon points="564.69,399.67 578.69,384.17 546.54,431.54 532.54,445.8" fill="#FFD200" fill-opacity="0.63"/>
<path d="M578.69,384.17L546.54,431.54M564.69,399.67L578.69,384.17M532.54,445.8L546.54,431.54" stroke="#000" stroke-opacity="0.6" stroke-width="1" stroke-dasharray="1 2.4" fill="none"/>
<polygon points="440.24,526.01 454.24,510.52 422.08,513.18 408.08,528.61" fill="#FFD200" fill-opacity="0.63"/>
<path d="M454.24,510.52L422.08,513.18M408.08,528.61L422.08,513.18" stroke="#000" stroke-opacity="0.6" stroke-width="1" stroke-dasharray="1 2.4" fill="none"/>
<polygon points="518.54,460.06 532.54,445.8 500.39,480.69 486.39,495.32" fill="#FFD200" fill-opacity="0.63"/>
<path d="M532.54,445.8L500.39,480.69M486.39,495.32L500.39,480.69" stroke="#000" stroke-opacity="0.6" stroke-width="1" stroke-dasharray="1 2.4" fill="none"/>
<polygon points="361.93,534.57 375.93,519.37 343.78,508.77 329.78,523.92" fill="#FFD200" fill-opacity="0.63"/>
<path d="M361.93,534.57L329.78,523.92M375.93,519.37L343.78,508.77M329.78,523.92L343.78,508.77" stroke="#000" stroke-opacity="0.6" stroke-width="1" stroke-dasharray="1 2.4" fill="none"/>
<polygon points="472.39,509.95 486.39,495.32 454.24,510.52 440.24,526.01" fill="#FFD200" fill-opacity="0.63"/>
<path d="M486.39,495.32L454.24,510.52M440.24,526.01L454.24,510.52" stroke="#000" stroke-opacity="0.6" stroke-width="1" stroke-dasharray="1 2.4" fill="none"/>
<polygon points="394.08,544.03 408.08,528.61 375.93,519.37 361.93,534.57" fill="#FFD200" fill-opacity="0.63"/>
<path d="M394.08,544.03L361.93,534.57M408.08,528.61L375.93,519.37M361.93,534.57L375.93,519.37" stroke="#000" stroke-opacity="0.6" stroke-width="1" stroke-dasharray="1 2.4" fill="none"/>
<polygon points="550.69,414.97 564.69,399.67 532.54,445.8 518.54,460.06" fill="#FFD200" fill-opacity="0.63"/>
<path d="M564.69,399.67L532.54,445.8M550.69,414.97L564.69,399.67M518.54,460.06L532.54,445.8" stroke="#000" stroke-opacity="0.6" stroke-width="1" stroke-dasharray="1 2.4" fill="none"/>
<polygon points="426.24,541.51 440.24,526.01 408.08,528.61 394.08,544.03" fill="#FFD200" fill-opacity="0.63"/>
<path d="M426.24,541.51L394.08,544.03M440.24,526.01L408.08,528.61M394.08,544.03L408.08,528.61" stroke="#000" stroke-opacity="0.6" stroke-width="1" stroke-dasharray="1 2.4" fill="none"/>
<polygon points="504.54,474.32 518.54,460.06 486.39,495.32 472.39,509.95" fill="#FFD200" fill-opacity="0.63"/>
<path d="M518.54,460.06L486.39,495.32M472.39,509.95L486.39,495.32" stroke="#000" stroke-opacity="0.6" stroke-width="1" stroke-dasharray="1 2.4" fill="none"/>
<polygon points="458.39,524.58 472.39,509.95 440.24,526.01 426.24,541.51" fill="#FFD200" fill-opacity="0.63"/>
<path d="M458.39,524.58L426.24,541.51M472.39,509.95L440.24,526.01M426.24,541.51L440.24,526.01" stroke="#000" stroke-opacity="0.6" stroke-width="1" stroke-dasharray="1 2.4" fill="none"/>
<polygon points="536.69,430.08 550.69,414.97 518.54,460.06 504.54,474.32" fill="#FFD200" fill-opacity="0.63"/>
<path d="M550.69,414.97L518.54,460.06M536.69,430.08L550.69,414.97M504.54,474.32L518.54,460.06" stroke="#000" stroke-opacity="0.6" stroke-width="1" stroke-dasharray="1 2.4" fill="none"/>
<polygon points="490.54,488.58 504.54,474.32 472.39,509.95 458.39,524.58" fill="#FFD200" fill-opacity="0.63"/>
<path d="M490.54,488.58L458.39,524.58M504.54,474.32L472.39,509.95M458.39,524.58L472.39,509.95" stroke="#000" stroke-opacity="0.6" stroke-width="1" stroke-dasharray="1 2.4" fill="none"/>
<polygon points="522.69,445 536.69,430.08 504.54,474.32 490.54,488.58" fill="#FFD200" fill-opacity="0.63"/>
<path d="M522.69,445L490.54,488.58M536.69,430.08L504.54,474.32M522.69,445L536.69,430.08M490.54,488.58L504.54,474.32" stroke="#000" stroke-opacity="0.6" stroke-width="1" stroke-dasharray="1 2.4" fill="none"/>
<clipPath id="cs"><polygon points="480,320 520,320 520,350.2 480,338.2"/></clipPath>
<g clip-path="url(#cs)"><path d="M492.7,343.2L505.3,343.2M494.55,338.75L503.45,347.65M499,336.9L499,349.5M503.45,338.75L494.55,347.65" stroke="#FF0000" stroke-width="2.4" fill="none"/></g>
<line x1="104.26" y1="485.58" x2="104.26" y2="290.99" stroke="#262626" stroke-width="1" />
<line x1="104.26" y1="485.58" x2="499.3" y2="621.9" stroke="#262626" stroke-width="1" />
<line x1="499.3" y1="621.9" x2="723.3" y2="383.34" stroke="#262626" stroke-width="1" />
<line x1="104.26" y1="485.58" x2="94.05" y2="482.06" stroke="#262626" stroke-width="1" />
<line x1="104.26" y1="420.71" x2="94.05" y2="417.19" stroke="#262626" stroke-width="1" />
<line x1="104.26" y1="355.85" x2="94.05" y2="352.33" stroke="#262626" stroke-width="1" />
<line x1="104.26" y1="290.99" x2="94.05" y2="287.46" stroke="#262626" stroke-width="1" />
<line x1="499.3" y1="621.9" x2="491.91" y2="629.77" stroke="#262626" stroke-width="1" />
<line x1="433.46" y1="599.18" x2="426.07" y2="607.05" stroke="#262626" stroke-width="1" />
<line x1="367.62" y1="576.46" x2="360.23" y2="584.33" stroke="#262626" stroke-width="1" />
<line x1="301.78" y1="553.74" x2="294.39" y2="561.61" stroke="#262626" stroke-width="1" />
<line x1="235.94" y1="531.02" x2="228.55" y2="538.89" stroke="#262626" stroke-width="1" />
<line x1="170.1" y1="508.3" x2="162.71" y2="516.17" stroke="#262626" stroke-width="1" />
<line x1="104.26" y1="485.58" x2="96.87" y2="493.45" stroke="#262626" stroke-width="1" />
<line x1="499.3" y1="621.9" x2="509.51" y2="625.42" stroke="#262626" stroke-width="1" />
<line x1="555.3" y1="562.26" x2="565.51" y2="565.78" stroke="#262626" stroke-width="1" />
<line x1="611.3" y1="502.62" x2="621.51" y2="506.14" stroke="#262626" stroke-width="1" />
<line x1="667.3" y1="442.98" x2="677.51" y2="446.5" stroke="#262626" stroke-width="1" />
<line x1="723.3" y1="383.34" x2="733.51" y2="386.86" stroke="#262626" stroke-width="1" />
<path d="M492.9,245.5L505.1,245.5M494.69,241.19L503.31,249.81M499,239.4L499,251.6M503.31,241.19L494.69,249.81" stroke="#000" stroke-width="2.3" fill="none"/>
<text x="88.8" y="483.78" font-family="Liberation Serif" fill="#262626" font-size="16" text-anchor="end">0</text>
<text x="88.8" y="418.91" font-family="Liberation Serif" fill="#262626" font-size="16" text-anchor="end">0.5</text>
<text x="88.8" y="354.05" font-family="Liberation Serif" fill="#262626" font-size="16" text-anchor="end">1</text>
<text x="88.8" y="289.19" font-family="Liberation Serif" fill="#262626" font-size="16" text-anchor="end">1.5</text>
<text x="488.1" y="647.3" font-family="Liberation Serif" fill="#262626" font-size="16" text-anchor="end">-3</text>
<text x="422.26" y="624.58" font-family="Liberation Serif" fill="#262626" font-size="16" text-anchor="end">-2</text>
<text x="356.42" y="601.86" font-family="Liberation Serif" fill="#262626" font-size="16" text-anchor="end">-1</text>
<text x="290.58" y="579.14" font-family="Liberation Serif" fill="#262626" font-size="16" text-anchor="end">0</text>
<text x="224.74" y="556.42" font-family="Liberation Serif" fill="#262626" font-size="16" text-anchor="end">1</text>
<text x="158.9" y="533.7" font-family="Liberation Serif" fill="#262626" font-size="16" text-anchor="end">2</text>
<text x="93.06" y="510.98" font-family="Liberation Serif" fill="#262626" font-size="16" text-anchor="end">3</text>
<text x="514.8" y="641.1" font-family="Liberation Serif" fill="#262626" font-size="16">-4</text>
<text x="570.8" y="581.46" font-family="Liberation Serif" fill="#262626" font-size="16">-2</text>
<text x="626.8" y="521.82" font-family="Liberation Serif" fill="#262626" font-size="16">0</text>
<text x="682.8" y="462.18" font-family="Liberation Serif" fill="#262626" font-size="16">2</text>
<text x="738.8" y="402.54" font-family="Liberation Serif" fill="#262626" font-size="16">4</text>
<text x="310.9" y="630.8" font-family="Liberation Serif" fill="#262626" font-size="17.6">Im(</text>
<text x="337.4" y="630.8" font-family="Liberation Serif" fill="#262626" font-size="17.6" font-style="italic">z</text>
<text x="344.6" y="633.8" font-family="Liberation Serif" fill="#262626" font-size="12.5" font-style="italic">ℓ</text>
<text x="351.2" y="630.8" font-family="Liberation Serif" fill="#262626" font-size="17.6">)</text>
<text x="597.5" y="605.3" font-family="Liberation Serif" fill="#262626" font-size="17.6">Re(</text>
<text x="624.1" y="605.3" font-family="Liberation Serif" fill="#262626" font-size="17.6" font-style="italic">z</text>
<text x="631.6" y="608.3" font-family="Liberation Serif" fill="#262626" font-size="12.5" font-style="italic">ℓ</text>
<text x="638.3" y="605.3" font-family="Liberation Serif" fill="#262626" font-size="17.6">)</text>
<line x1="46" y1="378" x2="62.8" y2="378" stroke="#C4C4C4" stroke-width="1.5"/>
<line x1="46" y1="398.3" x2="62.8" y2="398.3" stroke="#C4C4C4" stroke-width="1.5"/>
<text transform="translate(59,394.8) rotate(-90)" font-family="Liberation Serif" fill="#262626" font-size="17.6" font-style="italic">z<tspan font-size="11.7" dx="0.4" dy="2">k</tspan></text>
<path d="M60.6,254.6L67.6,261.6M60.6,261.6L67.6,254.6" stroke="#262626" stroke-width="0.9" fill="none"/>
<text x="71.3" y="262.2" font-family="Liberation Serif" fill="#262626" font-size="16" textLength="14" lengthAdjust="spacingAndGlyphs">10</text>
<line x1="86.3" y1="254.3" x2="93.1" y2="254.3" stroke="#262626" stroke-width="0.9"/>
<text x="94.6" y="257.2" font-family="Liberation Serif" fill="#262626" font-size="10.6">3</text>
<rect x="483.5" y="17.2" width="235" height="97" fill="#FFFFFF" stroke="#3a3a3a" stroke-width="1"/>
<rect x="486" y="20.5" width="33.5" height="14.5" fill="#FFD200" fill-opacity="0.63" stroke="#000" stroke-opacity="0.6" stroke-width="1" stroke-dasharray="1 2.4" />
<path d="M496.4,47.1L508.4,47.1M498.16,42.86L506.64,51.34M502.4,41.1L502.4,53.1M506.64,42.86L498.16,51.34" stroke="#000" stroke-width="2.2" fill="none"/>
<path d="M496.5,65.5L508.5,65.5M498.26,61.26L506.74,69.74M502.5,59.5L502.5,71.5M506.74,61.26L498.26,69.74" stroke="#FF0000" stroke-width="2.2" fill="none"/>
<line x1="486.2" y1="84.5" x2="519.2" y2="84.5" stroke="#404040" stroke-width="3"/>
<line x1="486.2" y1="103.2" x2="519.2" y2="103.2" stroke="#FF0000" stroke-width="2"/>
<text x="522.7" y="31" font-family="Liberation Serif" fill="#000" font-size="16" lengthAdjust="spacingAndGlyphs" textLength="30.4">SSM</text>
<text x="522.7" y="49.9" font-family="Liberation Serif" fill="#000" font-size="16" lengthAdjust="spacingAndGlyphs" textLength="192.8">Initial condition off the SSM</text>
<text x="522.7" y="68.8" font-family="Liberation Serif" fill="#000" font-size="16" lengthAdjust="spacingAndGlyphs" textLength="192.3">Initial condition on the SSM</text>
<text x="522.7" y="87.7" font-family="Liberation Serif" fill="#000" font-size="16" lengthAdjust="spacingAndGlyphs" textLength="86">Full Solution</text>
<text x="522.7" y="106.7" font-family="Liberation Serif" fill="#000" font-size="16" lengthAdjust="spacingAndGlyphs" textLength="183.1">Reduced dynamics on SSM</text>
<rect x="1.5" y="3.5" width="5" height="5" fill="#E6EEF7" stroke="#5B87BA" stroke-width="1"/>
<rect x="396.5" y="3.5" width="5" height="5" fill="#E6EEF7" stroke="#5B87BA" stroke-width="1"/>
<rect x="790.5" y="3.5" width="5" height="5" fill="#E6EEF7" stroke="#5B87BA" stroke-width="1"/>
<rect x="1.5" y="347.5" width="5" height="5" fill="#E6EEF7" stroke="#5B87BA" stroke-width="1"/>
<rect x="790.5" y="347.5" width="5" height="5" fill="#E6EEF7" stroke="#5B87BA" stroke-width="1"/>
<rect x="1.5" y="691.5" width="5" height="5" fill="#E6EEF7" stroke="#5B87BA" stroke-width="1"/>
<rect x="396.5" y="691.5" width="5" height="5" fill="#E6EEF7" stroke="#5B87BA" stroke-width="1"/>
<rect x="790.5" y="691.5" width="5" height="5" fill="#E6EEF7" stroke="#5B87BA" stroke-width="1"/>
<rect x="799" y="0" width="1" height="700" fill="#1a1a1a"/>
<rect x="0" y="699" width="800" height="1" fill="#1a1a1a"/>
</svg>
</body></html>
